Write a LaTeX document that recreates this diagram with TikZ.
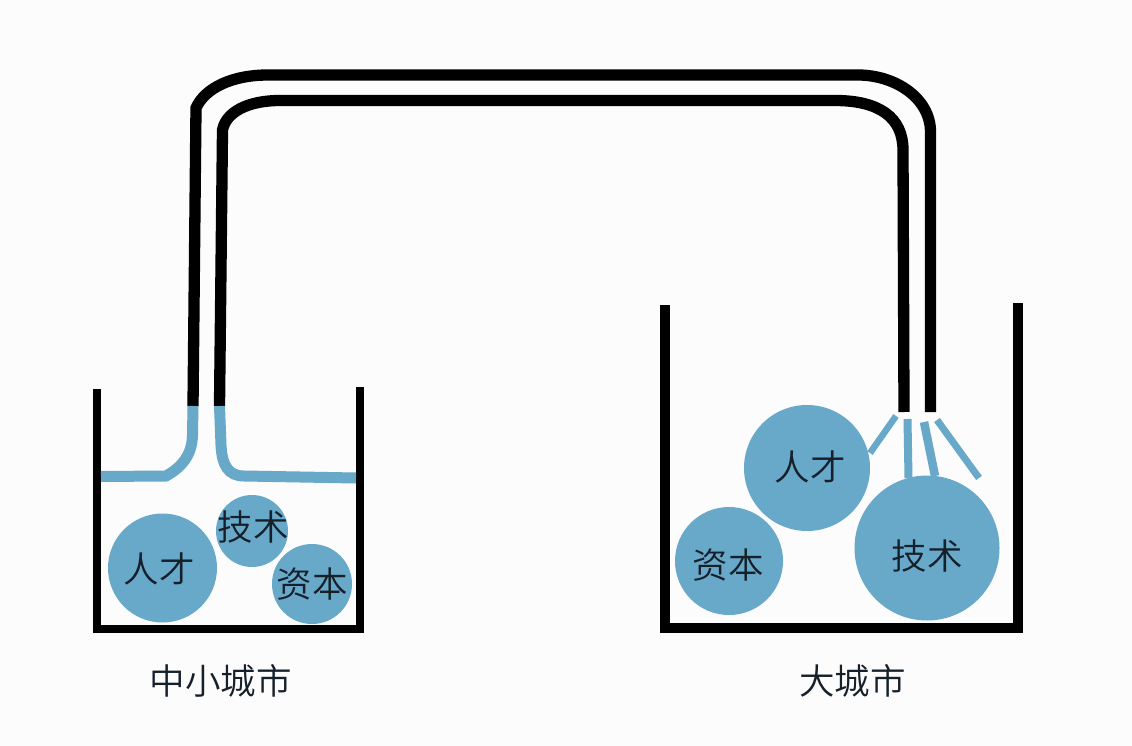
\documentclass[tikz,border=0pt]{standalone}
\usepackage{fontspec}
\setmainfont{Noto Sans CJK SC DemiLight}
\definecolor{ballblue}{HTML}{68A8C9}
\definecolor{inkdark}{HTML}{15202A}
\tikzset{
  wall/.style={draw=black,line width=#1},
  pipe/.style={draw=black,line width=11.3pt},
  flow/.style={draw=ballblue,line width=#1},
  ball/.style={circle,fill=ballblue,inner sep=0pt,minimum size=#1},
  balltext/.style={font=\fontsize{35.5}{36}\selectfont,text=inkdark,inner sep=0pt},
  caption/.style={font=\fontsize{35.5}{36}\selectfont,text=inkdark,inner sep=0pt}
}
\begin{document}
\begin{tikzpicture}[x=1pt,y=-1pt]
\useasboundingbox (0,0) rectangle (1132,746);
\fill[white!99!black] (0,0) rectangle (1132,746);
% left tank
\draw[wall=7.5pt] (97,389) -- (97,629);
\draw[wall=8.3pt] (93.2,629) -- (364,629);
\draw[wall=8.3pt] (360,387) -- (360,633);
% right tank
\draw[wall=10pt] (665,305) -- (665,632);
\draw[wall=10.8pt] (660,628) -- (1023.3,628);
\draw[wall=10.6pt] (1018,303) -- (1018,633);
% pipes
\draw[pipe] (193,406) -- (196,108) .. controls (205,88) and (232,75) .. (268,75) -- (858,75)
  .. controls (895,75) and (930.5,98) .. (930.5,132) -- (930.5,412);
\draw[pipe] (219.5,406) -- (222.5,130) .. controls (226,112) and (248,100.5) .. (280,100.5) -- (835,100.5)
  .. controls (880,100.5) and (903,118) .. (903,150) -- (904,412);
% left flow
\draw[flow=11pt] (193,406) -- (192.5,435) .. controls (192,455) and (182,467) .. (166,476) -- (101,476.5);
\draw[flow=11pt] (219.5,406) -- (221,445) .. controls (222,465) and (228,476) .. (244,476) -- (356,478);
% right flow
\draw[flow=6.5pt] (896,416) -- (870,453);
\draw[flow=8pt] (907.5,419) -- (908.5,478);
\draw[flow=8.5pt] (924,422) -- (935,476);
\draw[flow=7pt] (937,420) -- (979,478);
% balls
\node[ball=109pt] (ltalent) at (162.5,568) {};
\node[ball=72pt] (ltech) at (252,531) {};
\node[ball=80pt] (lcap) at (312,584) {};
\node[ball=126pt] (rtalent) at (807,468) {};
\node[ball=108pt] (rcap) at (729,561) {};
\node[ball=145pt] (rtech) at (927,548) {};
\node[balltext] at (159,569) {人才};
\node[balltext] at (253,527) {技术};
\node[balltext] at (312,584) {资本};
\node[balltext] at (810,467) {人才};
\node[balltext] at (728,565) {资本};
\node[balltext] at (927,556) {技术};
\node[caption] (lname) at (220.5,681) {中小城市};
\node[caption] (rname) at (852.5,681) {大城市};
\end{tikzpicture}
\end{document}
